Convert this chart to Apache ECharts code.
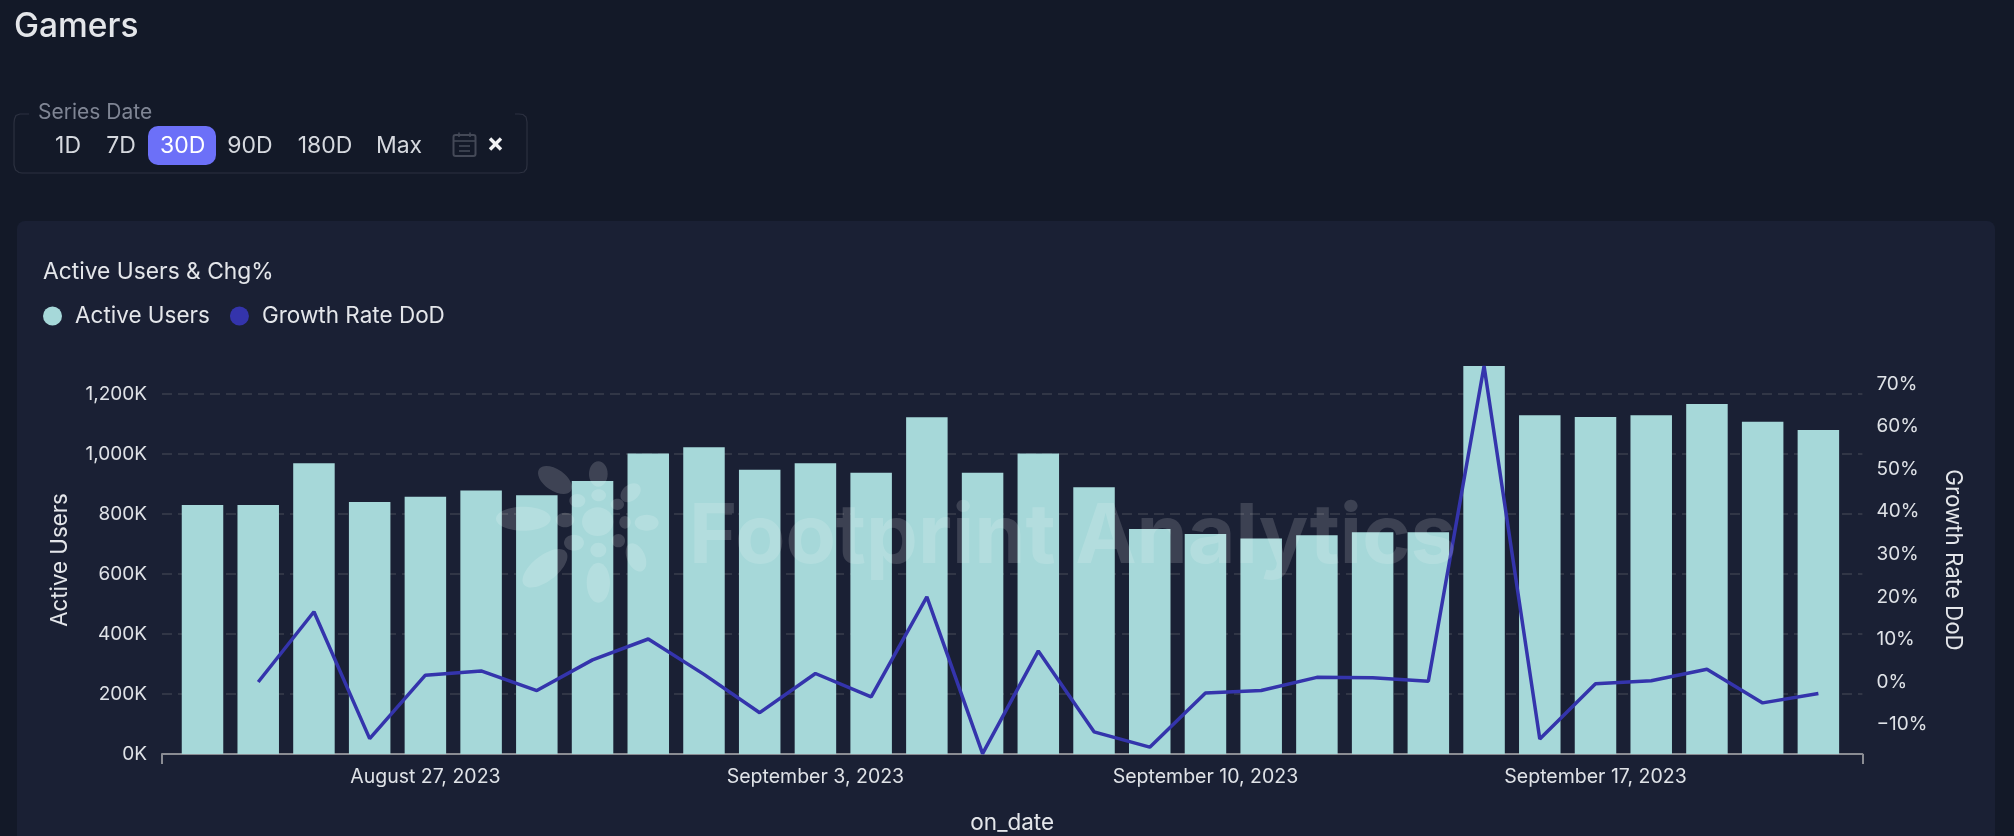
<!DOCTYPE html>
<html><head><meta charset="utf-8">
<style>html,body{margin:0;padding:0;background:#131928;overflow:hidden}#c{width:2014px;height:836px}</style>
<script src="https://cdn.jsdelivr.net/npm/echarts@6/dist/echarts.min.js"></script>
</head><body><div id="c"></div>
<script>
const dates = ['2023-08-23','2023-08-24','2023-08-25','2023-08-26','2023-08-27','2023-08-28','2023-08-29','2023-08-30','2023-08-31','2023-09-01','2023-09-02','2023-09-03','2023-09-04','2023-09-05','2023-09-06','2023-09-07','2023-09-08','2023-09-09','2023-09-10','2023-09-11','2023-09-12','2023-09-13','2023-09-14','2023-09-15','2023-09-16','2023-09-17','2023-09-18','2023-09-19','2023-09-20','2023-09-21'];
const activeUsers = [830,830,969,840,857,878,862,910,1001,1022,947,969,937,1122,937,1001,889,750,733,718,729,739,739,1293,1129,1123,1129,1166,1107,1080];
const growthRate = [null,0,16.5,-13.3,1.6,2.6,-2,5.2,10.1,1.8,-7.2,2,-3.5,20,-16.8,7.3,-11.7,-15.3,-2.6,-2,1.1,1,0.2,74.2,-13.4,-0.4,0.3,3,-4.9,-2.7];
const tickDates = ['2023-08-27','2023-09-03','2023-09-10','2023-09-17'];
const rightTicks = [-10,0,10,20,30,40,50,60,70];
const rangeButtons = ['1D','7D','30D','90D','180D','Max'];

const FONT = 'Inter';
const ts = s => { const [y,m,d] = s.split('-').map(Number); return new Date(y,m-1,d).getTime(); };
const DAY = 864e5;
const xMin = ts(dates[0]) - 0.727*DAY, xMax = ts(dates[dates.length-1]) + 0.79*DAY;
const MONTHS = ['January','February','March','April','May','June','July','August','September','October','November','December'];

const txt = (text,x,y,size,fill,extra={}) => ({type:'text',z:5,silent:true,x,y,style:{text,font:`${extra.weight||400} ${size}px ${FONT}`,fill,align:extra.align||'center',verticalAlign:'middle'}});
const pl = (points,stroke,lineWidth) => ({type:'polyline',z:1,silent:true,shape:{points},style:{fill:null,stroke,lineWidth}});
const buttonX = [68,121,182.6,250,325,399];
const elements = [
 {type:'rect',z:-10,silent:true,shape:{x:17,y:221,width:1978,height:640,r:8},style:{fill:'#1a2034'}},
 txt('Gamers',14,27,33.5,'#e4e6ea',{align:'left',weight:500}),
 pl([[29,114],[20,114],[16,115.5],[14.5,119],[14,123],[14,165],[15.5,170],[19,172.5],[22,173],[519,173],[524,172],[526.5,169],[527,165],[527,122],[526,117],[523,114.5],[519,114],[515,114]],'#2c3140',1.2),
 txt('Series Date',38,113,21,'#7f8594',{align:'left'}),
 {type:'rect',z:1,silent:true,shape:{x:148,y:126,width:68,height:39,r:10},style:{fill:'#6c70f8'}},
 ...rangeButtons.map((b,i)=>txt(b,buttonX[i],146,23,i===2?'#ffffff':'#d5d8de')),
 {type:'rect',z:1,silent:true,shape:{x:453.5,y:135,width:22,height:21,r:2},style:{fill:null,stroke:'#444957',lineWidth:2}},
 pl([[453.5,141],[475.5,141]],'#444957',1.6), pl([[459,132.5],[459,137]],'#444957',1.6), pl([[470,132.5],[470,137]],'#444957',1.6),
 pl([[459,146],[470,146]],'#444957',1.6), pl([[459,151],[470,151]],'#444957',1.6),
 pl([[490,138.5],[501,149.5]],'#f2f3f5',3.4), pl([[501,138.5],[490,149.5]],'#f2f3f5',3.4),
];
// decorative watermark logo
const petals = [[323,215,47,43,0],[325,72,28,38,0],[195,90,58,32,-35],[100,206,82,36,0],[165,355,80,38,38],[325,398,35,60,0],[438,322,27,45,25],[470,218,36,24,0],[422,128,34,24,40],[326,136,22,18,0],[262,152,24,20,0],[225,210,28,22,0],[252,278,30,24,0],[325,300,24,22,0],[385,272,20,20,0],[405,217,17,19,0],[382,163,20,17,0]];
petals.forEach(p=>{
  elements.push({type:'ellipse',z:100,silent:true,x:490+p[0]/3,y:450+p[1]/3,rotation:p[4]*Math.PI/180,shape:{cx:0,cy:0,rx:p[2]/3,ry:p[3]/3},style:{fill:'rgba(255,255,255,0.16)'}});
});
elements.push({type:'text',z:100,silent:true,x:689,y:538,style:{text:'Footprint Analytics',font:`700 82.3px ${FONT}`,fill:'rgba(255,255,255,0.15)',align:'left',verticalAlign:'middle'}});

const chart = echarts.init(document.getElementById('c'),null,{width:2014,height:836});
chart.setOption({
 backgroundColor:'#131928',
 animation:false,
 textStyle:{fontFamily:FONT},
 title:{text:'Active Users & Chg%',left:38,top:255.5,textStyle:{fontFamily:FONT,fontSize:22.8,fontWeight:400,color:'#e4e6ea',lineHeight:24}},
 legend:{left:43,top:304.5,icon:'circle',itemWidth:19,itemHeight:19,itemGap:20,padding:0,textStyle:{fontFamily:FONT,fontSize:22.5,color:'#e4e6ea',padding:[0,0,0,8]},data:['Active Users','Growth Rate DoD']},
 grid:{left:162,right:151.6,top:366,bottom:82,containLabel:false,outerBoundsMode:'none'},
 xAxis:{type:'value',min:xMin,max:xMax,scale:true,name:'on_date',nameLocation:'middle',nameGap:58,nameTextStyle:{fontFamily:FONT,fontSize:22.5,color:'#e4e6ea'},
  axisLine:{show:true,onZero:false,lineStyle:{color:'#8a8c93',width:2}},
  axisTick:{show:true,length:10,lineStyle:{color:'#8a8c93',width:2},customValues:[xMin,xMax]},
  axisLabel:{color:'#dfe2e7',fontFamily:FONT,fontSize:19.5,margin:13,customValues:tickDates.map(ts),hideOverlap:false,
   formatter:v=>{const d=new Date(v);return `${MONTHS[d.getMonth()]} ${d.getDate()}, ${d.getFullYear()}`;}},
  splitLine:{show:false},minorSplitLine:{show:false}},
 yAxis:[
  {type:'value',min:0,max:1293,interval:200,name:'Active Users',nameLocation:'middle',nameRotate:90,nameGap:91,nameTextStyle:{fontFamily:FONT,fontSize:22.3,color:'#e4e6ea'},
   axisLine:{show:false},axisTick:{show:false},
   axisLabel:{color:'#dfe2e7',fontFamily:FONT,fontSize:19,margin:15,padding:[2,0,0,0],showMaxLabel:false,formatter:v=>v.toLocaleString('en-US')+'K'},
   splitLine:{show:true,showMinLine:false,showMaxLine:false,lineStyle:{color:'#3a3e4c',width:1.5,type:[10,6]}}},
  {type:'value',min:-16.9,max:74.2,name:'Growth Rate DoD',nameLocation:'middle',nameRotate:-90,nameGap:79,nameTextStyle:{fontFamily:FONT,fontSize:22.3,color:'#e4e6ea'},
   axisLine:{show:false},axisTick:{show:false},splitLine:{show:false},
   axisLabel:{color:'#dfe2e7',fontFamily:FONT,fontSize:19,margin:14,padding:[2,0,0,0],customValues:rightTicks,formatter:v=>(v<0?'\u2212'+Math.abs(v):v)+'%'}}
 ],
 series:[
  {name:'Active Users',type:'bar',yAxisIndex:0,barWidth:41.5,itemStyle:{color:'#a6d8d9'},data:dates.map((d,i)=>[ts(d),activeUsers[i]])},
  {name:'Growth Rate DoD',type:'line',yAxisIndex:1,showSymbol:false,clip:false,connectNulls:false,itemStyle:{color:'#3434ac'},lineStyle:{color:'#3434ac',width:3.5},data:dates.map((d,i)=>[ts(d),growthRate[i]])}
 ],
 graphic:{elements}
});
</script></body></html>
